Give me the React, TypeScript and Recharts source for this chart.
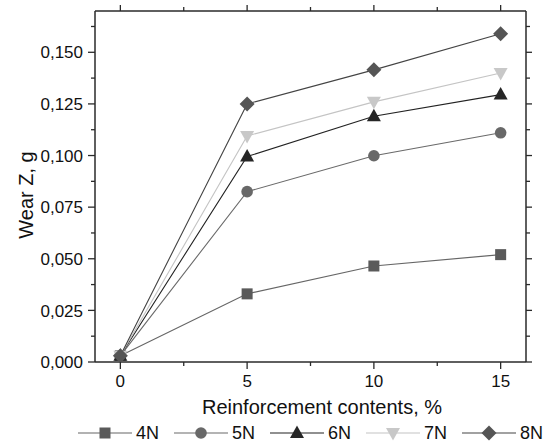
import React from 'react';
import { LineChart, Line, XAxis, YAxis } from 'recharts';

const xValues = [0, 5, 10, 15];
const s4N = [0.003, 0.033, 0.0465, 0.052];
const s5N = [0.003, 0.0825, 0.0999, 0.111];
const s6N = [0.003, 0.0995, 0.119, 0.1295];
const s7N = [0.003, 0.1095, 0.126, 0.140];
const s8N = [0.003, 0.125, 0.1415, 0.159];
const seriesNames = ['4N', '5N', '6N', '7N', '8N'];
const xMajorTicks = [0, 5, 10, 15];
const xMinorTicks = [2.5, 7.5, 12.5];
const yMajorTicks = [0, 0.025, 0.05, 0.075, 0.1, 0.125, 0.15];
const yMinorTicks = [0.0125, 0.0375, 0.0625, 0.0875, 0.1125, 0.1375, 0.1625];
const xTitle = 'Reinforcement contents, %';
const yTitle = 'Wear Z, g';

const seriesValues = [s4N, s5N, s6N, s7N, s8N];
const data = xValues.map((x, i) => {
  const row: any = { x };
  seriesNames.forEach((n, k) => { row[n] = seriesValues[k][i]; });
  return row;
});

const FONT = '"Liberation Sans", Arial, Helvetica, sans-serif';
const AXIS = '#2a2a2a';

const styles = [
  { shape: 'square', fill: '#5a5a5a', stroke: '#666666' },
  { shape: 'circle', fill: '#686868', stroke: '#6a6a6a' },
  { shape: 'up', fill: '#262626', stroke: '#222222' },
  { shape: 'down', fill: '#c8c8c8', stroke: '#c4c4c4' },
  { shape: 'diamond', fill: '#555555', stroke: '#444444' },
];

const markerEl = (shape: string, fill: string, cx: number, cy: number, key?: any) => {
  switch (shape) {
    case 'square':
      return <rect key={key} x={cx - 5.5} y={cy - 5.5} width={11} height={11} fill={fill} />;
    case 'circle':
      return <circle key={key} cx={cx} cy={cy} r={5.8} fill={fill} />;
    case 'up':
      return <polygon key={key} points={`${cx},${cy - 7.5} ${cx - 7},${cy + 5} ${cx + 7},${cy + 5}`} fill={fill} />;
    case 'down':
      return <polygon key={key} points={`${cx - 7},${cy - 5} ${cx + 7},${cy - 5} ${cx},${cy + 7.5}`} fill={fill} />;
    default:
      return <polygon key={key} points={`${cx},${cy - 7.5} ${cx + 7.5},${cy} ${cx},${cy + 7.5} ${cx - 7.5},${cy}`} fill={fill} />;
  }
};

const makeDot = (shape: string, fill: string) => (props: any) => {
  const { cx, cy, index } = props;
  return markerEl(shape, fill, cx, cy, `${shape}-${index}`);
};

const isIn = (arr: number[], v: number) => arr.some((a) => Math.abs(a - v) < 1e-9);

const XTick = (props: any) => {
  const { x, y, payload } = props;
  const major = isIn(xMajorTicks, payload.value);
  return (
    <g>
      <line x1={x} y1={y} x2={x} y2={y + (major ? 7 : 4)} stroke={AXIS} strokeWidth={1.3} />
      {major && (
        <text x={x} y={y + 25} textAnchor="middle" fontSize={17} fontFamily={FONT} fill="#111">
          {payload.value}
        </text>
      )}
    </g>
  );
};

const XTopTick = (props: any) => {
  const { x, y, payload } = props;
  const major = isIn(xMajorTicks, payload.value);
  return <line x1={x} y1={y} x2={x} y2={y - (major ? 6 : 4)} stroke={AXIS} strokeWidth={1.3} />;
};

const YTick = (props: any) => {
  const { x, y, payload } = props;
  const major = isIn(yMajorTicks, payload.value);
  return (
    <g>
      <line x1={x} y1={y} x2={x - (major ? 7 : 4)} y2={y} stroke={AXIS} strokeWidth={1.3} />
      {major && (
        <text x={x - 12} y={y} dy="0.36em" textAnchor="end" fontSize={17} fontFamily={FONT} fill="#111">
          {payload.value.toFixed(3).replace('.', ',')}
        </text>
      )}
    </g>
  );
};

const YRightTick = (props: any) => {
  const { x, y, payload } = props;
  const major = isIn(yMajorTicks, payload.value);
  return <line x1={x} y1={y} x2={x + (major ? 6 : 4)} y2={y} stroke={AXIS} strokeWidth={1.3} />;
};

const xAllTicks = [...xMajorTicks, ...xMinorTicks].sort((a, b) => a - b);
const yAllTicks = [...yMajorTicks, ...yMinorTicks].sort((a, b) => a - b);

const legendX = [78, 174, 270, 366, 462];

export default function App() {
  return (
    <div style={{ position: 'absolute', left: 0, top: 0, width: 547, height: 447, background: '#fff' }}>
      <LineChart width={547} height={447} data={data} margin={{ top: 10, right: 20, left: 0, bottom: 0 }}>
        <XAxis
          dataKey="x"
          type="number"
          domain={[-1, 16]}
          ticks={xAllTicks}
          interval={0}
          tickSize={0}
          tickMargin={0}
          tickLine={false}
          tick={(p: any) => <XTick {...p} />}
          height={85}
          axisLine={{ stroke: AXIS, strokeWidth: 1.5 }}
          allowDataOverflow
          label={{
            content: () => (
              <text x={322} y={414} textAnchor="middle" fontSize={20} fontFamily={FONT} fill="#111">
                {xTitle}
              </text>
            ),
          }}
        />
        <XAxis
          xAxisId="top"
          orientation="top"
          dataKey="x"
          type="number"
          domain={[-1, 16]}
          ticks={xAllTicks}
          interval={0}
          tickSize={0}
          tickMargin={0}
          tickLine={false}
          tick={(p: any) => <XTopTick {...p} />}
          height={1}
          axisLine={{ stroke: AXIS, strokeWidth: 1.5 }}
          allowDataOverflow
        />
        <YAxis
          type="number"
          domain={[0, 0.17]}
          ticks={yAllTicks}
          interval={0}
          tickSize={0}
          tickMargin={0}
          tickLine={false}
          tick={(p: any) => <YTick {...p} />}
          width={95}
          axisLine={{ stroke: AXIS, strokeWidth: 1.5 }}
          allowDataOverflow
          label={{
            content: () => (
              <text
                x={33}
                y={195}
                transform="rotate(-90 33 195)"
                textAnchor="middle"
                fontSize={20}
                fontFamily={FONT}
                fill="#111"
              >
                {yTitle}
              </text>
            ),
          }}
        />
        <YAxis
          yAxisId="right"
          orientation="right"
          type="number"
          domain={[0, 0.17]}
          ticks={yAllTicks}
          interval={0}
          tickSize={0}
          tickMargin={0}
          tickLine={false}
          tick={(p: any) => <YRightTick {...p} />}
          width={1}
          axisLine={{ stroke: AXIS, strokeWidth: 1.5 }}
          allowDataOverflow
        />
        {seriesNames.map((n, k) => (
          <Line
            key={n}
            type="linear"
            dataKey={n}
            stroke={styles[k].stroke}
            strokeWidth={1.1}
            dot={makeDot(styles[k].shape, styles[k].fill)}
            activeDot={false}
            isAnimationActive={false}
          />
        ))}
      </LineChart>
      {seriesNames.map((n, k) => (
        <div
          key={n}
          style={{
            position: 'absolute',
            left: legendX[k],
            top: 423,
            height: 20,
            display: 'flex',
            alignItems: 'center',
            fontFamily: FONT,
            fontSize: 18,
            color: '#111',
            whiteSpace: 'nowrap',
          }}
        >
          <svg width={54} height={20} style={{ display: 'block' }}>
            <line x1={0} y1={10} x2={54} y2={10} stroke={styles[k].stroke} strokeWidth={1.1} />
            {markerEl(styles[k].shape, styles[k].fill, 27, 10)}
          </svg>
          <span style={{ marginLeft: 4 }}>{n}</span>
        </div>
      ))}
    </div>
  );
}
